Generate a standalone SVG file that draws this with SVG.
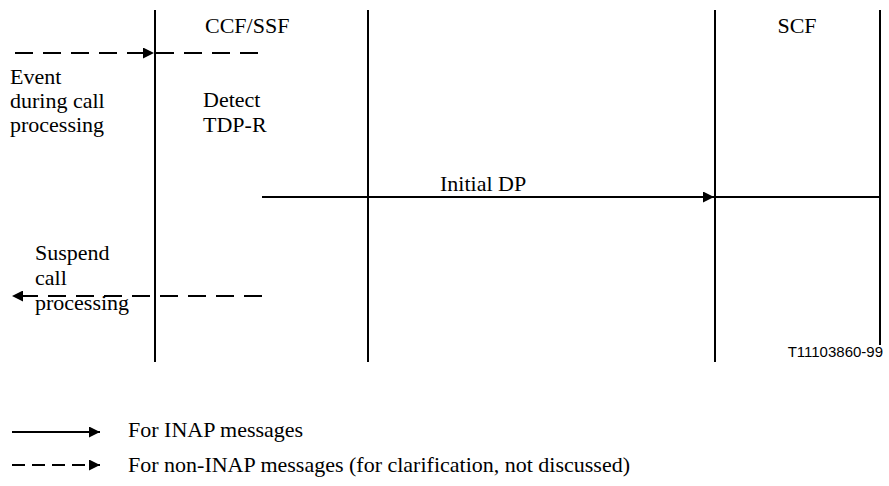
<svg xmlns="http://www.w3.org/2000/svg" width="889" height="486" viewBox="0 0 889 486">
  <style>
    .lane { stroke: #000; stroke-width: 2; fill: none; }
    .msg { stroke: #000; stroke-width: 2; fill: none; }
    .dash { stroke-dasharray: 18 10; }
    .ldash { stroke-dasharray: 13 7; }
    .t { font-family: 'Liberation Serif', serif; font-size: 22px; fill: #000; }
    .ref { font-family: 'Liberation Sans', sans-serif; font-size: 15px; fill: #000; }
  </style>
  <defs>
    <marker id="ah" viewBox="0 0 10 10" refX="10" refY="5" markerWidth="13" markerHeight="11" markerUnits="userSpaceOnUse" orient="auto">
      <path d="M0,0 L10,5 L0,10 z" fill="#000"/>
    </marker>
  </defs>

  <!-- lifelines -->
  <g id="lifelines">
    <line class="lane" x1="155" y1="10" x2="155" y2="362"/>
    <line class="lane" x1="368" y1="10" x2="368" y2="362"/>
    <line class="lane" x1="715" y1="10" x2="715" y2="362"/>
    <line class="lane" x1="880" y1="10" x2="880" y2="345"/>
  </g>

  <g id="ccf-ssf">
    <text class="t" x="205" y="33">CCF/SSF</text>
    <text class="t" x="203" y="107">Detect</text>
    <text class="t" x="203" y="132">TDP-R</text>
  </g>

  <g id="scf">
    <text class="t" x="797" y="33" text-anchor="middle">SCF</text>
  </g>

  <g id="event">
    <text class="t" x="10" y="84">Event</text>
    <text class="t" x="10" y="108">during call</text>
    <text class="t" x="10" y="132">processing</text>
  </g>

  <g id="suspend">
    <text class="t" x="35" y="260">Suspend</text>
    <text class="t" x="35" y="285">call</text>
    <text class="t" x="35" y="310">processing</text>
  </g>

  <!-- messages -->
  <g id="connectors">
    <line class="msg dash" x1="15" y1="53" x2="154" y2="53" marker-end="url(#ah)"/>
    <line class="msg dash" x1="156" y1="53" x2="262" y2="53"/>
    <line class="msg" x1="262" y1="197" x2="714" y2="197" marker-end="url(#ah)"/>
    <line class="msg" x1="716" y1="197" x2="880" y2="197"/>
    <line class="msg dash" x1="262" y1="296" x2="12" y2="296" marker-end="url(#ah)"/>
  </g>
  <text class="t" x="440" y="191">Initial DP</text>

  <text class="ref" x="883" y="357" text-anchor="end">T11103860-99</text>

  <!-- legend -->
  <g id="legend">
    <line class="msg" x1="12" y1="432" x2="100" y2="432" marker-end="url(#ah)"/>
    <text class="t" x="128" y="437">For INAP messages</text>
    <line class="msg ldash" x1="12" y1="465" x2="100" y2="465" marker-end="url(#ah)"/>
    <text class="t" x="128" y="472">For non-INAP messages (for clarification, not discussed)</text>
  </g>
</svg>
